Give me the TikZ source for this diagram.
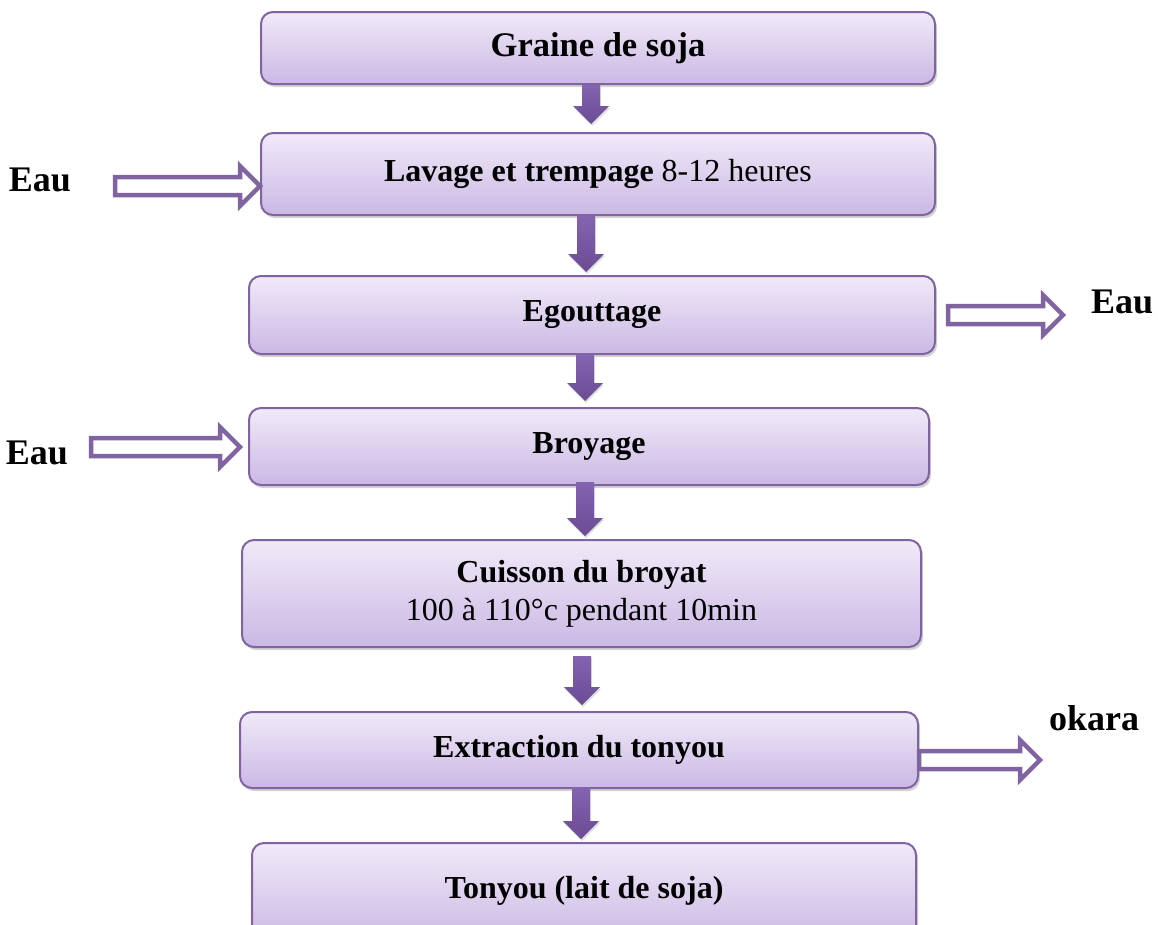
\documentclass[tikz,border=0pt]{standalone}
\usepackage{fontspec}
\setmainfont{Liberation Serif}
\usetikzlibrary{shadows,calc}
\definecolor{boxtop}{HTML}{F0EAF8}
\definecolor{boxbot}{HTML}{CBB8E4}
\definecolor{pborder}{HTML}{8064A2}
\definecolor{arrtop}{HTML}{8463B0}
\definecolor{arrbot}{HTML}{6A4B94}
\tikzset{
  stepbox/.style={draw=pborder, line width=2pt, rounded corners=12pt,
    top color=boxtop, bottom color=boxbot, align=center,
    font=\fontsize{32}{38}\selectfont,
    drop shadow={opacity=0.35, shadow xshift=2pt, shadow yshift=-3pt}},
  sidelabel/.style={font=\fontsize{36}{40}\selectfont\bfseries},
  hollow/.style={draw=pborder, fill=white, line width=4.5pt, line join=miter},
  darr/.style={top color=arrtop, bottom color=arrbot, draw=none,
    drop shadow={opacity=0.25, shadow xshift=1pt, shadow yshift=-2pt}}
}
\newcommand\blockdown[2]{%
  \path[darr] let \p1=#1, \p2=#2 in
    (\x1-9pt,\y1) -- (\x1-9pt,\y2+18pt) -- (\x1-18pt,\y2+18pt) -- (\x1,\y2)
    -- (\x1+18pt,\y2+18pt) -- (\x1+9pt,\y2+18pt) -- (\x1+9pt,\y1) -- cycle;}
\newcommand\hollowright[2]{%
  \path[hollow] let \p1=#1, \p2=#2 in
    (\x1,\y1+9pt) -- (\x2-20pt,\y1+9pt) -- (\x2-20pt,\y1+20pt) -- (\x2,\y1)
    -- (\x2-20pt,\y1-20pt) -- (\x2-20pt,\y1-9pt) -- (\x1,\y1-9pt) -- cycle;}
\begin{document}
\begin{tikzpicture}[x=1pt,y=-1pt]
\useasboundingbox (0,0) rectangle (1158,924);
\begin{scope}
\clip (0,0) rectangle (1158,924);
\node[stepbox, minimum width=674pt, minimum height=72pt] (g1) at (598,48) {\fontsize{34.5}{38}\selectfont\raisebox{-2pt}{\textbf{Graine de soja}}};
\node[stepbox, minimum width=674pt, minimum height=82pt] (g2) at (598,174) {\raisebox{6pt}{\textbf{Lavage et trempage} 8-12 heures}};
\node[stepbox, minimum width=686pt, minimum height=78pt] (g3) at (592,315) {\raisebox{6pt}{\textbf{Egouttage}}};
\node[stepbox, minimum width=680pt, minimum height=77pt] (g4) at (589,446.5) {\raisebox{4pt}{\textbf{Broyage}}};
\node[stepbox, minimum width=679pt, minimum height=107pt] (g5) at (581.5,593.5) {\textbf{Cuisson du broyat}\\100 à 110°c pendant 10min};
\node[stepbox, minimum width=678pt, minimum height=76pt] (g6) at (579,750) {\raisebox{4pt}{\textbf{Extraction du tonyou}}};
\node[stepbox, minimum width=664pt, minimum height=100pt] (g7) at (584,893) {\raisebox{11pt}{\textbf{Tonyou (lait de soja)}}};

% down arrows
\coordinate (d1a) at ([xshift=-7pt]g1.south);
\coordinate (d1b) at ([xshift=-7pt,yshift=8pt]g2.north);
\coordinate (d2a) at ([xshift=-12pt]g2.south);
\coordinate (d2b) at ([xshift=-12pt,yshift=3pt]g3.north);
\coordinate (d3a) at ([xshift=-7pt]g3.south);
\coordinate (d3b) at ([xshift=-7pt,yshift=6pt]g4.north);
\coordinate (d4a) at ([xshift=-4pt,yshift=4pt]g4.south);
\coordinate (d4b) at ([xshift=-4pt,yshift=3pt]g5.north);
\coordinate (d5a) at ([xshift=0.5pt,yshift=-8pt]g5.south);
\coordinate (d5b) at ([xshift=0.5pt,yshift=6pt]g6.north);
\coordinate (d6a) at ([xshift=2pt,yshift=2pt]g6.south);
\coordinate (d6b) at ([xshift=-3pt,yshift=3pt]g7.north);
\blockdown{(d1a)}{(d1b)}
\blockdown{(d2a)}{(d2b)}
\blockdown{(d3a)}{(d3b)}
\blockdown{(d4a)}{(d4b)}
\blockdown{(d5a)}{(d5b)}
\blockdown{(d6a)}{(d6b)}

% side labels
\node[sidelabel] (e1) at (40,180) {Eau};
\node[sidelabel] (e2) at (1122,302) {Eau};
\node[sidelabel] (e3) at (37,453) {Eau};
\node[sidelabel] (ok) at (1094,718) {okara};

% hollow arrows
\coordinate (h1a) at (115,186);
\coordinate (h1b) at (g2.west |- h1a);
\coordinate (h2a) at ([xshift=12pt]g3.east);
\coordinate (h2b) at (1063,316);
\coordinate (h3a) at (91,447);
\coordinate (h3b) at ([xshift=-8pt]g4.west);
\coordinate (h4a) at ([yshift=-10pt]g6.east);
\coordinate (h4b) at (1040,740);
\hollowright{(h1a)}{(h1b)}
\hollowright{(h2a)}{(h2b)}
\hollowright{(h3a)}{(h3b)}
\hollowright{(h4a)}{(h4b)}
\end{scope}
\end{tikzpicture}
\end{document}
